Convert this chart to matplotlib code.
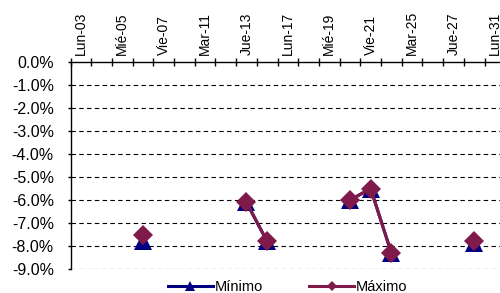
import numpy as np
import matplotlib
matplotlib.use("Agg")
import matplotlib.pyplot as plt
from matplotlib.ticker import FuncFormatter, FixedLocator

plt.rcParams['font.family'] = ['Liberation Sans', 'DejaVu Sans']

dias = ["Lun-03", "Mar-04", "Mié-05", "Jue-06", "Vie-07", "Lun-10", "Mar-11",
        "Mié-12", "Jue-13", "Vie-14", "Lun-17", "Mar-18", "Mié-19", "Jue-20",
        "Vie-21", "Lun-24", "Mar-25", "Mié-26", "Jue-27", "Vie-28", "Lun-31"]
nan = np.nan
minimo = [nan, nan, nan, -7.8, nan, nan, nan, nan, -6.1, -7.8, nan, nan, nan,
          -6.0, -5.5, -8.3, nan, nan, nan, -7.85, nan]
maximo = [nan, nan, nan, -7.5, nan, nan, nan, nan, -6.1, -7.8, nan, nan, nan,
          -6.0, -5.5, -8.3, nan, nan, nan, -7.8, nan]

c_min = '#000080'
c_max = '#7F1A4A'

fig = plt.figure(figsize=(5, 2.93), dpi=100)
ax = fig.add_axes([70.5/500, 1-269/293, 21*20.7/500, (269-62.3)/293])

x = np.arange(len(dias))
ax.plot(x, minimo, color=c_min, lw=2.2, marker='^', markersize=13,
        markeredgewidth=0, label='Mínimo')
ax.plot(x, maximo, color=c_max, lw=2.2, marker='D', markersize=10,
        markeredgewidth=0, label='Máximo')

ax.set_xlim(-0.5, len(dias) - 0.5)
ax.set_ylim(-9, 0)
ax.set_yticks(np.arange(-9, 0.5, 1))
ax.yaxis.set_major_formatter(FuncFormatter(lambda v, p: f"{v:.1f}%"))
ax.tick_params(axis='y', direction='out', length=2.5, width=1, pad=9.5,
               labelsize=11.5, color='black')
for yv in range(-9, 0):
    ax.axhline(yv, color='black', lw=0.8, linestyle=(0, (4, 3)), zorder=0)

ax.xaxis.tick_top()
ax.xaxis.set_major_locator(FixedLocator(x[::2]))
ax.set_xticklabels(dias[::2], rotation=90, fontsize=10)
ax.xaxis.set_minor_locator(FixedLocator(np.arange(-0.5, len(dias), 1)))
ax.tick_params(axis='x', which='major', length=0, pad=5)
ax.tick_params(axis='x', which='minor', direction='inout', length=6, width=1)

for s in ['bottom', 'right']:
    ax.spines[s].set_visible(False)
for s in ['top', 'left']:
    ax.spines[s].set_linewidth(1)
    ax.spines[s].set_color('black')

fig.legend(loc='center', bbox_to_anchor=(0.575, 0.02), ncol=2, frameon=False,
           fontsize=10.5, handlelength=3.1, columnspacing=3.2, markerscale=0.5,
           handletextpad=0.1)

fig.savefig('out.png', dpi=100)
